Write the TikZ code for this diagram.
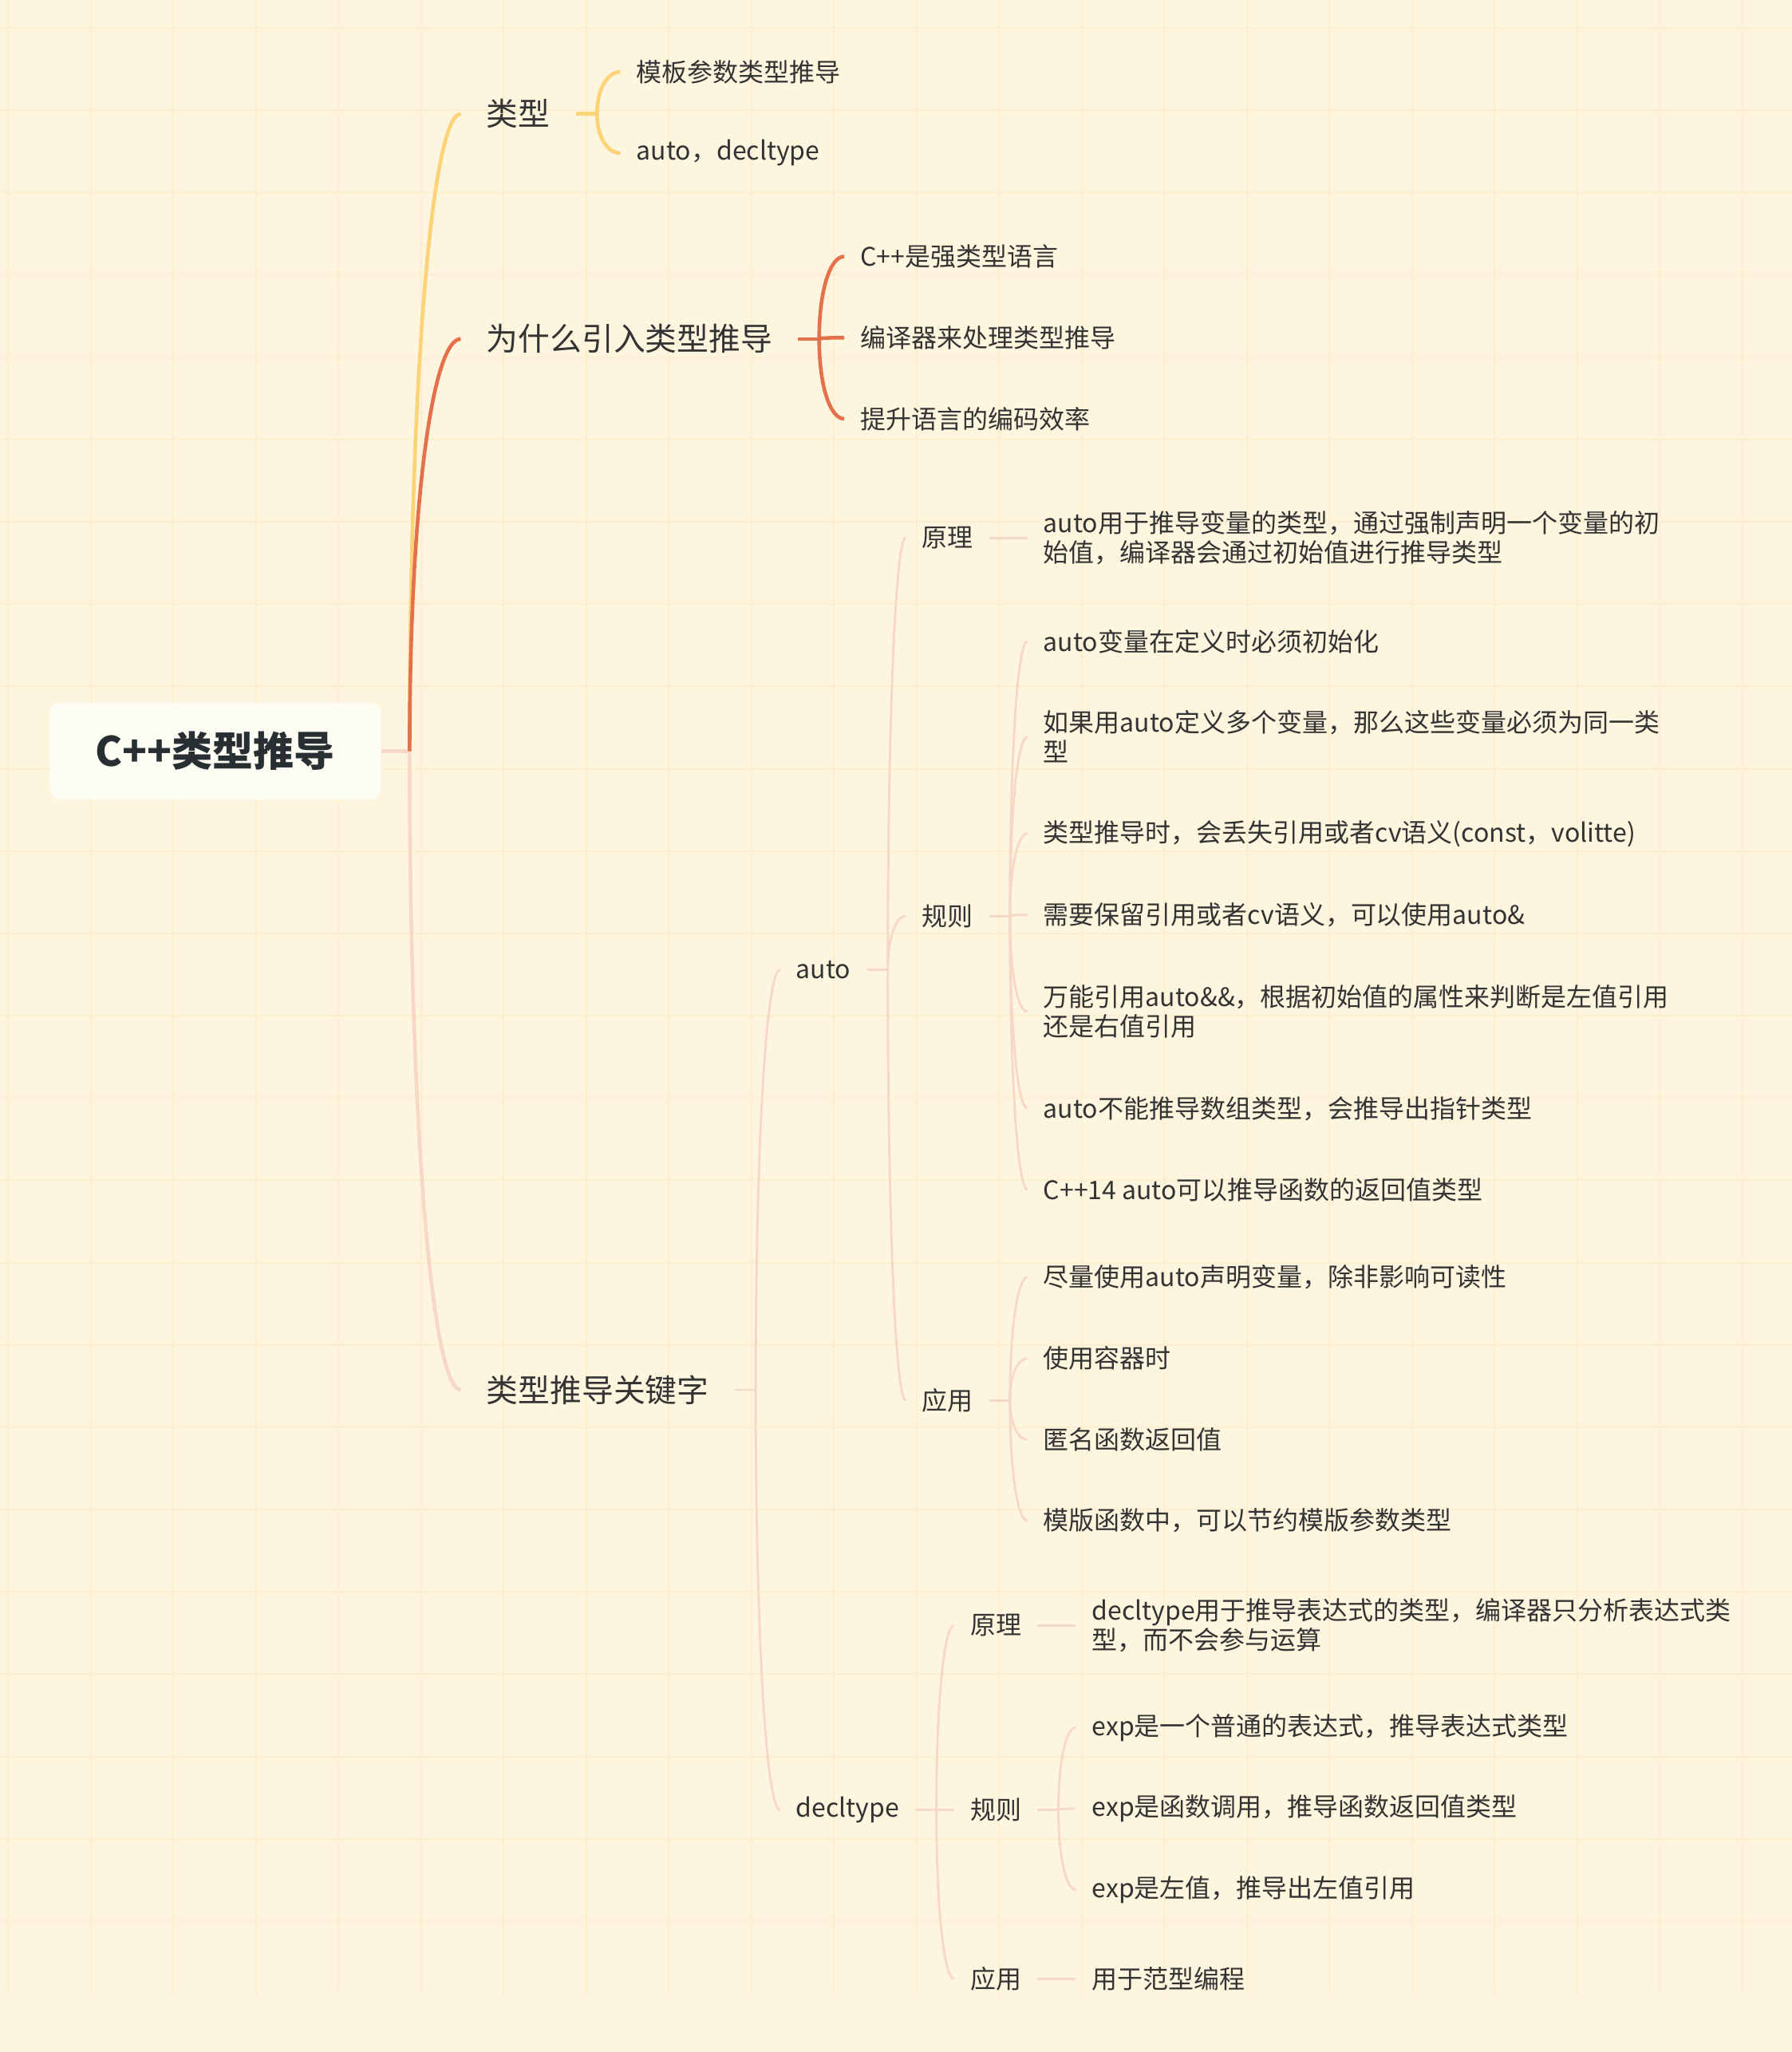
\documentclass[tikz,border=0pt]{standalone}
\usepackage{fontspec}
\usepackage{tikz}
\usetikzlibrary{positioning}
\usetikzlibrary{calc}
\newfontfamily\cjk{Noto Sans CJK SC}
\definecolor{fond}{rgb}{0.996,0.961,0.875}
\definecolor{grille}{rgb}{0.984,0.937,0.816}
\definecolor{racine}{rgb}{0.996,0.992,0.953}
\definecolor{jaune}{rgb}{0.992,0.827,0.471}
\definecolor{corail}{rgb}{0.894,0.443,0.294}
\definecolor{rose}{rgb}{0.969,0.847,0.776}
\definecolor{encre}{rgb}{0.2,0.2,0.2}
\definecolor{titre}{rgb}{0.157,0.184,0.2}

\begin{document}
\begin{tikzpicture}[x=0.02cm, y=-0.02cm,
		root/.style = {rounded corners=4.5pt, fill=racine,
			minimum width=5.06cm, minimum height=1.48cm, text=titre,
			font=\cjk\bfseries\fontsize{17.7}{21}\selectfont},
		topic/.style = {anchor=west, inner xsep=0.39cm, text=encre,
			font=\cjk\fontsize{13.8}{16}\selectfont},
		sub/.style = {anchor=west, inner xsep=0.24cm, text=encre, align=left,
			font=\cjk\fontsize{11.1}{12.8}\selectfont},
		twig/.style = {to path={.. controls ($(\tikztostart)!0.6!(\tikztostart|-\tikztotarget)$)
				and ($(\tikztostart|-\tikztotarget)!0.45!(\tikztotarget)$) .. (\tikztotarget)}},
		fatline/.style = {line width=1.6pt},
		slimline/.style = {line width=1pt}]
	
	\useasboundingbox (0,0) rectangle (1369,1568);
	
	% Paper
	\fill[fond] (0,0) rectangle (1369,1568);
	\foreach \gx in {0,...,21}
		\draw[grille, line width=0.7pt] ({6.1+63.1*\gx},0) -- ({6.1+63.1*\gx},1524);
	\foreach \gy in {0,...,23}
		\draw[grille, line width=0.7pt] (0,{21.3+62.9*\gy}) -- (1369,{21.3+62.9*\gy});
	
	% Root
	\node[root] (root) at (164.5,574) {C++类型推导};
	\coordinate (trunk) at (313,574);
	
	% Main topics
	\node[topic] (typ) at (352,87) {类型};
	\node[topic] (why) at (352,259) {为什么引入类型推导};
	\node[topic] (kw) at (352,1062) {类型推导关键字};
	
	% Types
	\node[sub] (typA) at (474,55) {模板参数类型推导};
	\node[sub] (typB) at (474,117) {auto，decltype};
	
	% Why
	\node[sub] (whyA) at (645,196) {C++是强类型语言};
	\node[sub] (whyB) at (645,258) {编译器来处理类型推导};
	\node[sub] (whyC) at (645,320) {提升语言的编码效率};
	
	% Keywords
	\node[sub] (kAuto) at (596,741) {auto};
	\node[sub] (kDecl) at (596,1383) {decltype};
	
	% auto
	\node[sub] (aPr) at (692,411) {原理};
	\node[sub] (aRu) at (692,700) {规则};
	\node[sub] (aUs) at (692,1070) {应用};
	
	\node[sub] (aPrA) at (785,411) {auto用于推导变量的类型，通过强制声明一个变量的初\\始值，编译器会通过初始值进行推导类型};
	
	\node[sub] (aRu1) at (785,490) {auto变量在定义时必须初始化};
	\node[sub] (aRu2) at (785,563) {如果用auto定义多个变量，那么这些变量必须为同一类\\型};
	\node[sub] (aRu3) at (785,637) {类型推导时，会丢失引用或者cv语义(const，volitte)};
	\node[sub] (aRu4) at (785,699) {需要保留引用或者cv语义，可以使用auto\&};
	\node[sub] (aRu5) at (785,773) {万能引用auto\&\&，根据初始值的属性来判断是左值引用\\还是右值引用};
	\node[sub] (aRu6) at (785,847) {auto不能推导数组类型，会推导出指针类型};
	\node[sub] (aRu7) at (785,909) {C++14 auto可以推导函数的返回值类型};
	
	\node[sub] (aUs1) at (785,976) {尽量使用auto声明变量，除非影响可读性};
	\node[sub] (aUs2) at (785,1038) {使用容器时};
	\node[sub] (aUs3) at (785,1100) {匿名函数返回值};
	\node[sub] (aUs4) at (785,1162) {模版函数中，可以节约模版参数类型};
	
	% decltype
	\node[sub] (dPr) at (729,1242) {原理};
	\node[sub] (dRu) at (729,1383) {规则};
	\node[sub] (dUs) at (729,1512) {应用};
	
	\node[sub] (dPrA) at (822,1242) {decltype用于推导表达式的类型，编译器只分析表达式类\\型，而不会参与运算};
	\node[sub] (dRu1) at (822,1320) {exp是一个普通的表达式，推导表达式类型};
	\node[sub] (dRu2) at (822,1382) {exp是函数调用，推导函数返回值类型};
	\node[sub] (dRu3) at (822,1444) {exp是左值，推导出左值引用};
	\node[sub] (dUsA) at (822,1512) {用于范型编程};
	
	% Forks
	\coordinate (fTyp) at ($(typ.east)+(16,0)$);
	\coordinate (fWhy) at ($(why.east)+(16,0)$);
	\coordinate (fKw) at ($(kw.east)+(16,0)$);
	\coordinate (fAuto) at ($(kAuto.east)+(16,0)$);
	\coordinate (fDecl) at ($(kDecl.east)+(16,0)$);
	\coordinate (fARu) at ($(aRu.east)+(16,0)$);
	\coordinate (fAUs) at ($(aUs.east)+(16,0)$);
	\coordinate (fDRu) at ($(dRu.east)+(16,0)$);
	
	% Trunk
	\draw[rose, fatline] (root.east) -- (trunk);
	\draw[rose, fatline] (trunk) to[twig] (kw.west);
	\draw[jaune, fatline] (trunk) to[twig] (typ.west);
	\draw[corail, fatline] (trunk) to[twig] (why.west);
	
	% Types branch
	\draw[jaune, fatline] (typ.east) -- (fTyp);
	\draw[jaune, fatline] (fTyp) to[twig] (typA.west) (fTyp) to[twig] (typB.west);
	
	% Why branch
	\draw[corail, fatline] (why.east) -- (fWhy);
	\draw[corail, fatline] (fWhy) to[twig] (whyA.west) (fWhy) to[twig] (whyB.west)
		(fWhy) to[twig] (whyC.west);
	
	% Keyword branch
	\draw[rose, slimline] (kw.east) -- (fKw);
	\draw[rose, slimline] (fKw) to[twig] (kAuto.west) (fKw) to[twig] (kDecl.west);
	
	\draw[rose, slimline] (kAuto.east) -- (fAuto);
	\draw[rose, slimline] (fAuto) to[twig] (aPr.west) (fAuto) to[twig] (aRu.west)
		(fAuto) to[twig] (aUs.west);
	\draw[rose, slimline] (aPr.east) -- (aPrA.west);
	
	\draw[rose, slimline] (aRu.east) -- (fARu);
	\foreach \k in {1,...,7}
		\draw[rose, slimline] (fARu) to[twig] (aRu\k.west);
	
	\draw[rose, slimline] (aUs.east) -- (fAUs);
	\foreach \k in {1,...,4}
		\draw[rose, slimline] (fAUs) to[twig] (aUs\k.west);
	
	\draw[rose, slimline] (kDecl.east) -- (fDecl);
	\draw[rose, slimline] (fDecl) to[twig] (dPr.west) (fDecl) to[twig] (dRu.west)
		(fDecl) to[twig] (dUs.west);
	\draw[rose, slimline] (dPr.east) -- (dPrA.west);
	\draw[rose, slimline] (dRu.east) -- (fDRu);
	\foreach \k in {1,...,3}
		\draw[rose, slimline] (fDRu) to[twig] (dRu\k.west);
	\draw[rose, slimline] (dUs.east) -- (dUsA.west);
\end{tikzpicture}
\end{document}
